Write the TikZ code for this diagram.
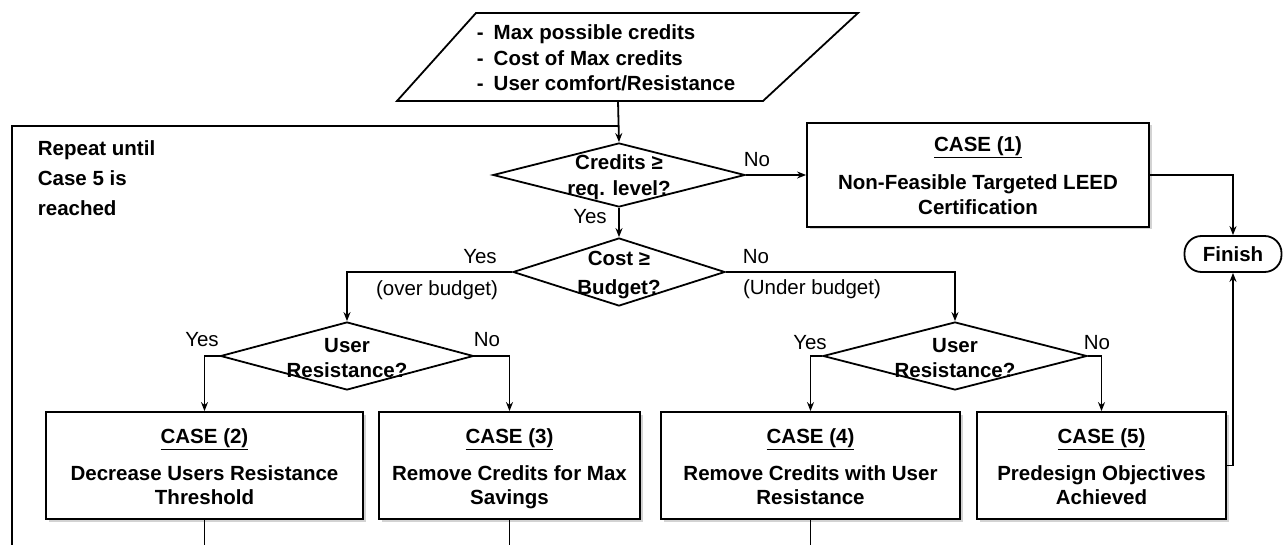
\documentclass[tikz,border=0pt]{standalone}
\usepackage{fontspec}
\setmainfont{Liberation Sans}
\usetikzlibrary{arrows.meta,shapes.geometric,shadows}
\newcommand{\toppad}{\rule{0pt}{25pt}}
\begin{document}
\begin{tikzpicture}[x=1pt,y=-1pt,
  line width=1.8pt,
  font=\fontsize{20.5}{24.5}\selectfont\bfseries,
  arr/.style={-{Stealth[length=9pt,width=7pt]}},
  casebox/.style={draw,fill=white,align=center,minimum height=107pt,inner sep=0pt,
     drop shadow={shadow xshift=2.5pt,shadow yshift=-2.5pt,opacity=0.35}},
  dec/.style={draw,diamond,inner sep=0pt,fill=white},
  dtext/.style={inner sep=0pt,anchor=center,align=center},
  lab/.style={inner sep=0pt,anchor=center,font=\fontsize{20.5}{24.5}\selectfont},
  fin/.style={draw,rectangle,rounded corners=17pt,minimum width=97pt,minimum height=36pt,inner sep=0pt}
]
\useasboundingbox (0,0) rectangle (1283,545);

% input parallelogram
\draw (397,101) -- (763,101) -- (858,13) -- (476,13) -- cycle;
\node[anchor=west,align=left,inner sep=0pt] (input) at (476,58)
  {-\hspace{10pt}Max possible credits\\[1pt]-\hspace{10pt}Cost of Max credits\\[1pt]-\hspace{10pt}User comfort/Resistance};
\coordinate (inbot) at (618,101);
\coordinate (join) at (618,126);

% decisions
\node[dec,minimum width=252pt,minimum height=64pt] (d1) at (619,175) {};
\node[dtext] (d1t) at (619,177) {Credits \char"2265\\[2pt]req. level?};
\node[dec,minimum width=212pt,minimum height=68pt] (d2) at (619,272) {};
\node[dtext] (d2t) at (619,275) {Cost \char"2265\\[4pt]Budget?};
\node[dec,minimum width=253pt,minimum height=68pt] (d3) at (347,356) {};
\node[dtext] (d3t) at (347,358) {User\\Resistance?};
\node[dec,minimum width=264pt,minimum height=68pt] (d4) at (955,356) {};
\node[dtext] (d4t) at (955,358) {User\\Resistance?};

% case boxes
\node[casebox,minimum width=342pt,minimum height=104pt] (c1) at (978,175)
  {\rule{0pt}{23pt}\underline{CASE (1)}\\[14pt]Non-Feasible Targeted LEED\\Certification\strut};
\node[casebox,minimum width=317pt] (c2) at (204.5,465.5)
  {\toppad\underline{CASE (2)}\\[12pt]Decrease Users Resistance\\Threshold\strut};
\node[casebox,minimum width=261pt] (c3) at (509.5,465.5)
  {\toppad\underline{CASE (3)}\\[12pt]Remove Credits for Max\\Savings\strut};
\node[casebox,minimum width=299pt] (c4) at (810.5,465.5)
  {\toppad\underline{CASE (4)}\\[12pt]Remove Credits with User\\Resistance\strut};
\node[casebox,minimum width=249pt] (c5) at (1101.5,465.5)
  {\toppad\underline{CASE (5)}\\[12pt]Predesign Objectives\\Achieved\strut};

\node[fin] (finish) at (1233,254) {Finish};

% repeat note
\node[anchor=north west,align=left,inner sep=0pt,font=\fontsize{20.5}{30}\selectfont\bfseries] (note) at (37,140)
  {Repeat until\\Case 5 is\\reached};

% loop and bottom legs
\coordinate (lb) at (12,545);
\draw (lb) |- (join);
\coordinate (b2) at (204.5,545);
\coordinate (b3) at (509.5,545);
\coordinate (b4) at (810.5,545);
\draw (c2.south) -- (b2);
\draw (c3.south) -- (b3);
\draw (c4.south) -- (b4);

% connectors
\draw[arr] (inbot) -- (d1.north);
\draw[arr] (d1.east) -- (c1.west);
\draw[arr] (d1.south) -- (d2.north);
\draw[arr] (d2.west) -| (d3.north);
\draw[arr] (d2.east) -| (d4.north);
\draw[arr] (d3.west) -| (c2.north);
\draw[arr] (d3.east) -| (c3.north);
\draw[arr] (d4.west) -| (c4.north);
\draw[arr] (d4.east) -| (c5.north);
\draw[arr] (c1.east) -| (finish.north);
\draw[arr] (c5.east) -| (finish.south);

% labels
\node[lab] (l1) at (757,160) {No};
\node[lab] (l2) at (590,217) {Yes};
\node[lab] (l3) at (480,257) {Yes};
\node[lab] (l4) at (437,290) {(over budget)};
\node[lab] (l5) at (756,257) {No};
\node[lab] (l6) at (812,289) {(Under budget)};
\node[lab] (l7) at (202,340) {Yes};
\node[lab] (l8) at (487,340) {No};
\node[lab] (l9) at (810,343) {Yes};
\node[lab] (l10) at (1097,343) {No};
\end{tikzpicture}
\end{document}
